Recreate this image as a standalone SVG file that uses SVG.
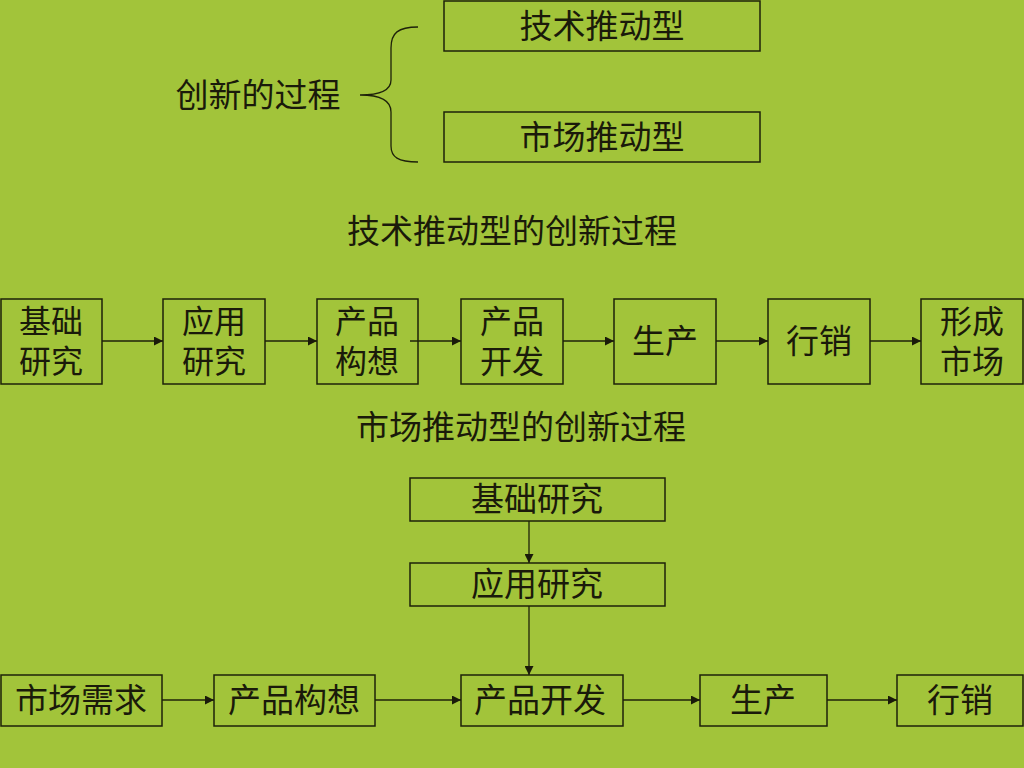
<svg xmlns="http://www.w3.org/2000/svg" width="1024" height="768" viewBox="0 0 1024 768">
<defs>
<marker id="ah" viewBox="0 0 10 10" refX="10" refY="5" markerWidth="10" markerHeight="9" markerUnits="userSpaceOnUse" orient="auto">
<path d="M0,0 L10,5 L0,10 z" fill="#1a1a0a"/>
</marker>
<style>
.box{fill:none;stroke:#1e220a;stroke-width:1.5}
.t{font-family:"Noto Sans CJK SC","Noto Sans CJK JP",sans-serif;font-size:33px;fill:#1a1a0a;text-anchor:middle;dominant-baseline:central}
.s{font-size:32px}
.c{fill:none;stroke:#1e220a;stroke-width:1.3;marker-end:url(#ah)}
</style>
</defs>
<rect width="1024" height="768" fill="#a2c43a"/>
<text class="t" x="258" y="93">创新的过程</text>
<path d="M418,27 C398,27 391,33 391,48 L391,80 C391,90 380,95 360,95 C380,95 391,100 391,112 L391,146 C391,157 398,162 418,162" fill="none" stroke="#1e220a" stroke-width="1.3"/>
<g id="top1"><rect class="box" x="444" y="1" width="316" height="50"/><text class="t" x="602" y="24">技术推动型</text></g>
<g id="top2"><rect class="box" x="444" y="112" width="316" height="50"/><text class="t" x="602" y="135">市场推动型</text></g>
<text class="t" x="512" y="229">技术推动型的创新过程</text>
<g id="a1"><rect class="box" x="1" y="299" width="101" height="85"/><text class="t s" x="51" y="319"><tspan x="51">基础</tspan><tspan x="51" dy="40">研究</tspan></text></g>
<g id="a2"><rect class="box" x="163" y="299" width="102" height="85"/><text class="t s" x="214" y="319"><tspan x="214">应用</tspan><tspan x="214" dy="40">研究</tspan></text></g>
<g id="a3"><rect class="box" x="317" y="299" width="101" height="85"/><text class="t s" x="367" y="319"><tspan x="367">产品</tspan><tspan x="367" dy="40">构想</tspan></text></g>
<g id="a4"><rect class="box" x="461" y="299" width="102" height="85"/><text class="t s" x="512" y="319"><tspan x="512">产品</tspan><tspan x="512" dy="40">开发</tspan></text></g>
<g id="a5"><rect class="box" x="614" y="299" width="102" height="85"/><text class="t" x="665" y="339">生产</text></g>
<g id="a6"><rect class="box" x="768" y="299" width="102" height="85"/><text class="t" x="819" y="339">行销</text></g>
<g id="a7"><rect class="box" x="921" y="299" width="102" height="85"/><text class="t s" x="972" y="319"><tspan x="972">形成</tspan><tspan x="972" dy="40">市场</tspan></text></g>
<text class="t" x="521" y="425">市场推动型的创新过程</text>
<g id="b1"><rect class="box" x="410" y="478" width="255" height="43"/><text class="t" x="537" y="497">基础研究</text></g>
<g id="b2"><rect class="box" x="410" y="563" width="255" height="43"/><text class="t" x="537" y="582">应用研究</text></g>
<g id="c1"><rect class="box" x="1" y="675" width="161" height="51"/><text class="t" x="81" y="698">市场需求</text></g>
<g id="c2"><rect class="box" x="214" y="675" width="161" height="51"/><text class="t" x="294" y="698">产品构想</text></g>
<g id="c3"><rect class="box" x="461" y="675" width="162" height="51"/><text class="t" x="540" y="698">产品开发</text></g>
<g id="c4"><rect class="box" x="700" y="675" width="127" height="51"/><text class="t" x="763" y="698">生产</text></g>
<g id="c5"><rect class="box" x="897" y="675" width="126" height="51"/><text class="t" x="960" y="698">行销</text></g>
<g id="connectors">
<line class="c" x1="102" y1="341" x2="163" y2="341"/>
<line class="c" x1="265" y1="341" x2="317" y2="341"/>
<line class="c" x1="410" y1="341" x2="461" y2="341"/>
<line class="c" x1="563" y1="341" x2="614" y2="341"/>
<line class="c" x1="716" y1="341" x2="768" y2="341"/>
<line class="c" x1="870" y1="341" x2="921" y2="341"/>
<line class="c" x1="529" y1="521" x2="529" y2="563"/>
<line class="c" x1="529" y1="606" x2="529" y2="675"/>
<line class="c" x1="162" y1="700" x2="214" y2="700"/>
<line class="c" x1="375" y1="700" x2="461" y2="700"/>
<line class="c" x1="623" y1="700" x2="700" y2="700"/>
<line class="c" x1="827" y1="700" x2="897" y2="700"/>
</g>
</svg>
